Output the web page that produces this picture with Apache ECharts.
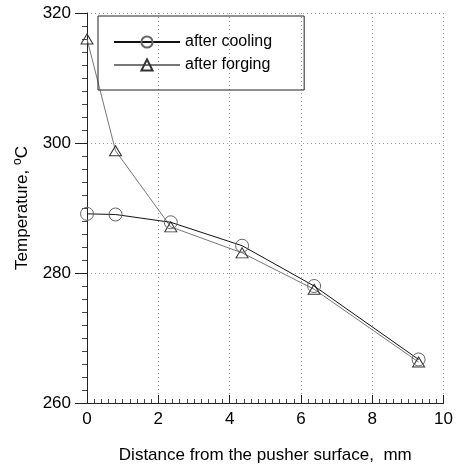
<!DOCTYPE html>
<html><head><meta charset="utf-8">
<script src="https://cdn.jsdelivr.net/npm/echarts@6/dist/echarts.min.js"></script>
<style>html,body{margin:0;padding:0;background:#fff}#c{width:456px;height:476px}</style>
</head><body><div id="c"></div>
<script>
const seriesNames = ["after cooling", "after forging"];
const coolingX = [0, 0.8, 2.35, 4.35, 6.37, 9.3];
const coolingY = [289.1, 289.0, 287.8, 284.2, 278.0, 266.7];
const forgingX = [0, 0.8, 2.35, 4.35, 6.37, 9.3];
const forgingY = [316.0, 298.8, 287.1, 283.1, 277.5, 266.3];
const xTicks = [0, 2, 4, 6, 8, 10];
const yTicks = [260, 280, 300, 320];

const font = "Liberation Sans, Arial, sans-serif";
const chart = echarts.init(document.getElementById('c'), null, {renderer: 'canvas'});
const pair = (xs, ys) => xs.map((x, i) => [x, ys[i]]);
chart.setOption({
  animation: false,
  backgroundColor: '#fff',
  grid: {left: 87, right: 8, top: 13, bottom: 73, containLabel: false},
  legend: {
    left: 98, top: 16, orient: 'vertical',
    padding: [18, 32, 17, 15],
    itemWidth: 66, itemHeight: 14, itemGap: 7,
    borderColor: '#222', borderWidth: 1,
    textStyle: {fontFamily: font, fontSize: 16, color: '#000'},
    data: seriesNames
  },
  xAxis: {
    type: 'value', min: xTicks[0], max: xTicks[xTicks.length - 1], interval: 2,
    name: 'Distance from the pusher surface,  mm', nameLocation: 'middle', nameGap: 44,
    nameTextStyle: {fontFamily: font, fontSize: 17, color: '#000'},
    axisLine: {show: true, onZero: false, lineStyle: {color: '#222', width: 1}},
    axisTick: {show: true, inside: true, length: 8, lineStyle: {color: '#222'}},
    minorTick: {show: true, splitNumber: 10, length: 4, lineStyle: {color: '#444'}},
    axisLabel: {fontFamily: font, fontSize: 17, color: '#000', margin: 8},
    splitLine: {show: true, lineStyle: {color: '#999', type: [1, 3], width: 1}}
  },
  yAxis: {
    type: 'value', min: yTicks[0], max: yTicks[yTicks.length - 1], interval: 20,
    name: 'Temperature, {sup|o}C', nameLocation: 'middle', nameGap: 55, nameRotate: 90,
    nameTextStyle: {fontFamily: font, fontSize: 17, color: '#000',
      rich: {sup: {fontFamily: font, fontSize: 12, color: '#000', verticalAlign: 'top', padding: [0, 0, 8, 0]}}},
    axisLine: {show: true, onZero: false, lineStyle: {color: '#222', width: 1}},
    axisTick: {show: true, inside: false, length: 12, lineStyle: {color: '#222'}},
    minorTick: {show: true, splitNumber: 10, length: 5, lineStyle: {color: '#444'}},
    axisLabel: {fontFamily: font, fontSize: 17, color: '#000', margin: 16},
    splitLine: {show: true, lineStyle: {color: '#999', type: [1, 3], width: 1}}
  },
  series: [
    {
      name: seriesNames[0], type: 'line', data: pair(coolingX, coolingY),
      symbol: 'circle', symbolSize: 13, showAllSymbol: true,
      lineStyle: {color: '#111', width: 1},
      itemStyle: {color: 'rgba(255,255,255,0)', borderColor: '#666', borderWidth: 1},
      z: 3
    },
    {
      name: seriesNames[1], type: 'line', data: pair(forgingX, forgingY),
      symbol: 'triangle', symbolSize: [12, 10], showAllSymbol: true,
      lineStyle: {color: '#777', width: 1},
      itemStyle: {color: 'rgba(255,255,255,0)', borderColor: '#333', borderWidth: 1},
      z: 2
    }
  ]
});
</script></body></html>
